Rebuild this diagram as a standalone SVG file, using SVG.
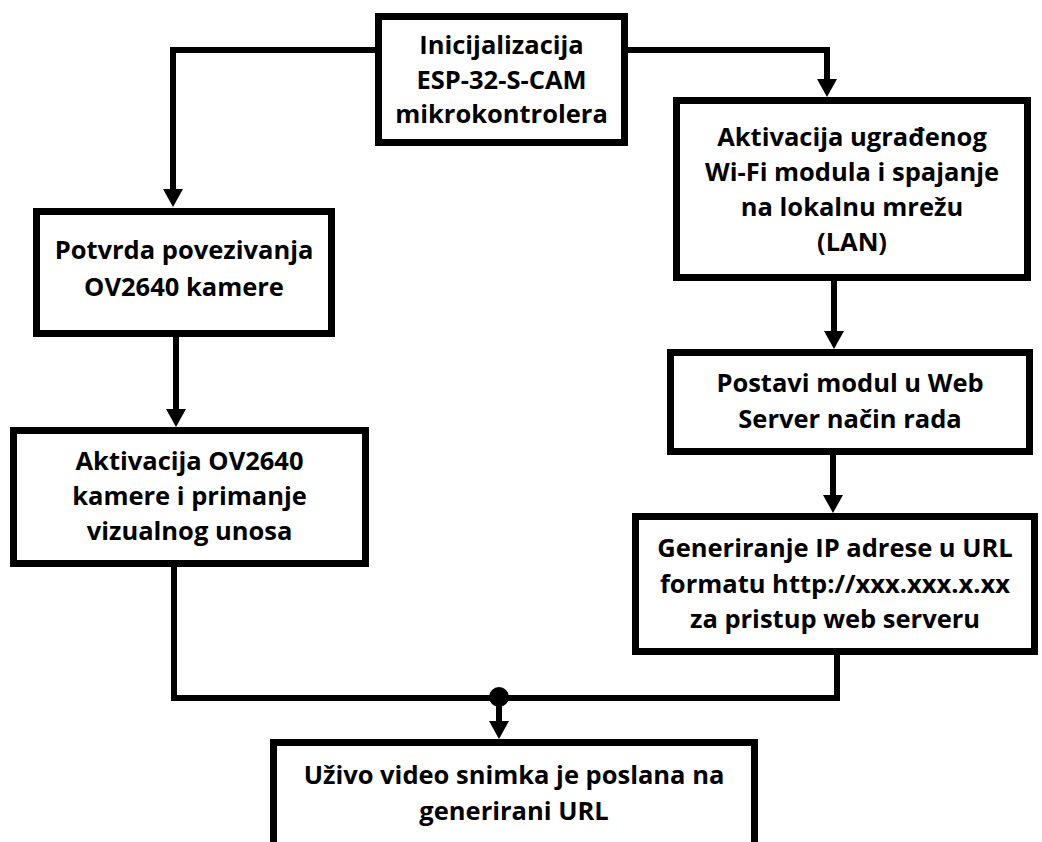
<svg xmlns="http://www.w3.org/2000/svg" width="1042" height="842" viewBox="0 0 1042 842">
<style>
.box{fill:#fff;stroke:#000;stroke-width:7}
.t{font-family:"Open Sans","Noto Sans","DejaVu Sans",sans-serif;font-weight:700;font-size:25.5px;fill:#000;text-anchor:middle}
.c{fill:none;stroke:#000;stroke-width:6}
</style>
<defs>
<marker id="ah" markerUnits="userSpaceOnUse" markerWidth="18" markerHeight="20" viewBox="0 0 18 20" refX="1" refY="10" orient="auto">
<path d="M0,0 L18,10 L0,20 z" fill="#000"/>
</marker>
</defs>
<rect width="1042" height="842" fill="#fff"/>
<g id="connectors">
<path class="c" d="M375,50 H173 V190" marker-end="url(#ah)"/>
<path class="c" d="M628,50 H827 V80" marker-end="url(#ah)"/>
<path class="c" d="M176,337 V410" marker-end="url(#ah)"/>
<path class="c" d="M834,281 V332" marker-end="url(#ah)"/>
<path class="c" d="M833,455 V496" marker-end="url(#ah)"/>
<path class="c" d="M174,567 V698 H837 V655"/>
<circle cx="499" cy="697" r="10" fill="#000"/>
<path class="c" d="M499,698 V722" marker-end="url(#ah)"/>
</g>
<g id="n_init">
<rect class="box" x="378.5" y="16.5" width="246" height="126"/>
<text class="t" x="501.5" y="54">Inicijalizacija</text>
<text class="t" x="501.5" y="89">ESP-32-S-CAM</text>
<text class="t" x="501.5" y="123">mikrokontrolera</text>
</g>
<g id="n_potvrda">
<rect class="box" x="36.5" y="211.5" width="295" height="122"/>
<text class="t" x="184" y="259">Potvrda povezivanja</text>
<text class="t" x="184" y="296">OV2640 kamere</text>
</g>
<g id="n_aktivacija_kamere">
<rect class="box" x="13.5" y="430.5" width="352" height="133"/>
<text class="t" x="189.5" y="470">Aktivacija OV2640</text>
<text class="t" x="189.5" y="505">kamere i primanje</text>
<text class="t" x="189.5" y="540">vizualnog unosa</text>
</g>
<g id="n_wifi">
<rect class="box" x="676.5" y="100.5" width="351" height="177"/>
<text class="t" x="852" y="146">Aktivacija ugrađenog</text>
<text class="t" x="852" y="181">Wi-Fi modula i spajanje</text>
<text class="t" x="852" y="216">na lokalnu mrežu</text>
<text class="t" x="852" y="251">(LAN)</text>
</g>
<g id="n_webserver">
<rect class="box" x="670.5" y="352.5" width="359" height="99"/>
<text class="t" x="850" y="392">Postavi modul u Web</text>
<text class="t" x="850" y="428">Server način rada</text>
</g>
<g id="n_ip">
<rect class="box" x="635.5" y="516.5" width="399" height="135"/>
<text class="t" x="835" y="557">Generiranje IP adrese u URL</text>
<text class="t" x="835" y="593">formatu http://xxx.xxx.x.xx</text>
<text class="t" x="835" y="628">za pristup web serveru</text>
</g>
<g id="n_video">
<rect class="box" x="273.5" y="742.5" width="481" height="130"/>
<text class="t" x="514" y="784">Uživo video snimka je poslana na</text>
<text class="t" x="514" y="820">generirani URL</text>
</g>
</svg>
